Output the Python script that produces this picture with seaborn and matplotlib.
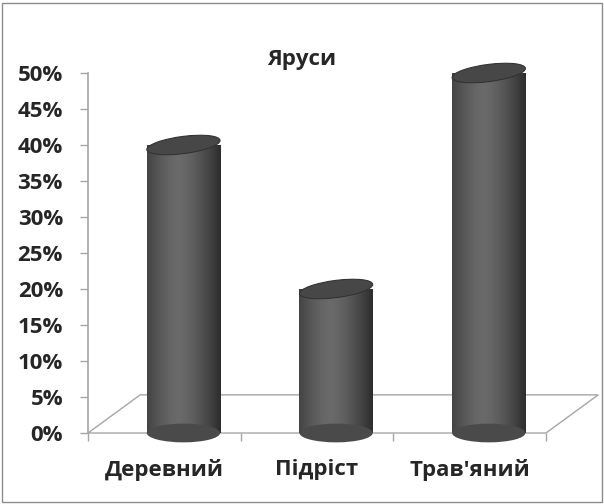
import numpy as np
import pandas as pd
import matplotlib
matplotlib.use("Agg")
import matplotlib.pyplot as plt
import seaborn as sns
from matplotlib.patches import Ellipse, Polygon, Rectangle
from matplotlib.ticker import PercentFormatter

# Data
categories = ["Деревний", "Підріст", "Трав'яний"]
shares = [0.40, 0.20, 0.50]
y_ticks = [0.0, 0.05, 0.10, 0.15, 0.20, 0.25, 0.30, 0.35, 0.40, 0.45, 0.50]
chart_title = "Яруси"

df = pd.DataFrame({"tier": categories, "share": shares})

sns.set_style("white")
plt.rcParams["font.family"] = ["Open Sans", "DejaVu Sans"]

fig = plt.figure(figsize=(6.04, 5.04), dpi=100)
ax = fig.add_axes([88 / 604, 1 - 433 / 504, 458 / 604, 360 / 504])

sns.barplot(data=df, x="tier", y="share", color="#4d4d4d", width=0.48, ax=ax,
            zorder=3)

# perspective shift: the cylinders sit to the right of the category centres
shift = 0.125
n = len(categories)

cyl_cmap = matplotlib.colors.LinearSegmentedColormap.from_list(
    "cyl", ["#6a6a6a", "#2e2e2e"])
grad = np.abs(np.linspace(-1, 1, 256) + 0.15) ** 1.5
grad = grad[np.newaxis, :]
for bar in ax.patches[:n]:
    x0, w, h = bar.get_x(), bar.get_width(), bar.get_height()
    bar.set_visible(False)
    clip = Rectangle((x0, 0), w, h, transform=ax.transData)
    img = ax.imshow(grad, extent=(x0, x0 + w, 0, h), aspect="auto",
                    cmap=cyl_cmap, vmin=0, vmax=1.2, zorder=3)
    img.set_clip_path(clip)
    ax.add_patch(Ellipse((x0 + w / 2, 0), w, 0.026, facecolor="#4a4a4a",
                         edgecolor="none", zorder=3, clip_on=False))
    ax.add_patch(Ellipse((x0 + w / 2, h), w, 0.024, angle=1.5,
                         facecolor="#474747", edgecolor="#333333", lw=0.8,
                         zorder=4, clip_on=False))

ax.set_xlim(-0.5 - shift, n - 0.5 - shift)
ax.set_ylim(0, 0.5)

# floor of the 3D chart
floor = Polygon([[0, 0], [1, 0], [1.114, 0.106], [0.114, 0.106]],
                closed=True, transform=ax.transAxes, fill=False,
                edgecolor="#a6a6a6", lw=1.0, clip_on=False, zorder=1)
ax.add_patch(floor)

ax.set_yticks(y_ticks)
ax.yaxis.set_major_formatter(PercentFormatter(1.0, decimals=0))
ax.set_xticks(np.arange(n + 1) - 0.5 - shift)
ax.set_xticklabels([])
ax.set_xticks(np.arange(n) - shift, minor=True)
ax.set_xticklabels(categories, minor=True)
ax.tick_params(axis="x", which="minor", length=0, pad=19, labelsize=16)
ax.tick_params(axis="x", which="major", length=6, width=1, color="#a6a6a6",
               direction="out", bottom=True)
ax.tick_params(axis="y", length=6, width=1, color="#a6a6a6", direction="out",
               left=True, labelsize=16, pad=12)
for lbl in ax.get_xticklabels(minor=True) + ax.get_yticklabels():
    lbl.set_fontweight("bold")

ax.set_xlabel("")
ax.set_ylabel("")
for side in ["top", "right", "bottom"]:
    ax.spines[side].set_visible(False)
ax.spines["left"].set_color("#a6a6a6")
ax.spines["left"].set_linewidth(1.2)
ax.patch.set_alpha(0)

fig.text(302 / 604, 1 - 60 / 504, chart_title, ha="center", va="center",
         fontsize=16, fontweight="bold")

# chart area border
fig.add_artist(Rectangle((0.004, 0.004), 0.992, 0.99, transform=fig.transFigure,
                         fill=False, edgecolor="#8c8c8c", lw=1.0))

fig.savefig("out.png", dpi=100)
